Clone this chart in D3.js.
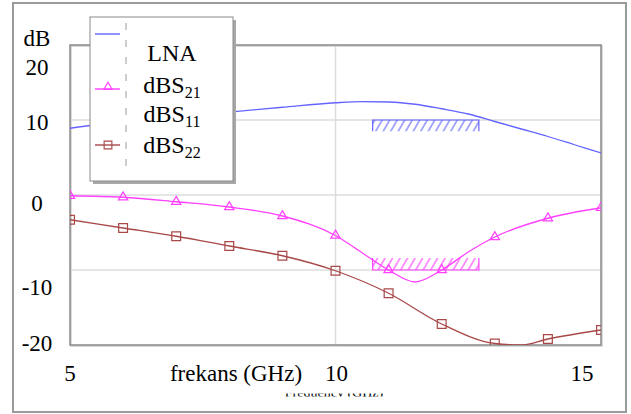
<!DOCTYPE html>
<html>
<head>
<meta charset="utf-8">
<script src="https://cdn.jsdelivr.net/npm/d3@7"></script>
<style>
  body { margin: 0; background: #fff; }
  svg text { fill: #000; }
</style>
</head>
<body>
<svg id="chart" width="631" height="414" font-family="'Liberation Serif', 'DejaVu Serif', 'Times New Roman', Times, serif"></svg>
<script>
// values (GHz / dB)
const lnaFreq = [5, 6, 7, 8, 9, 10, 10.5, 11, 11.5, 12, 12.5, 13, 13.5, 14, 14.5, 15];
const lnaDb = [8.9, 9.8, 10.5, 11.05, 11.7, 12.3, 12.45, 12.4, 12.1, 11.5, 10.8, 9.8, 8.8, 7.8, 6.7, 5.6];

const s21Freq = [5, 6, 7, 8, 9, 10, 10.5, 11, 11.5, 12, 12.5, 13, 14, 15];
const s21Db = [-0.1, -0.3, -0.9, -1.6, -2.8, -5.4, -7.7, -10.0, -11.6, -10.0, -7.6, -5.6, -3.1, -1.7];

const s22Freq = [5, 6, 7, 8, 9, 10, 11, 12, 13, 13.5, 14, 15];
const s22Db = [-3.3, -4.4, -5.5, -6.8, -8.1, -10.1, -13.1, -17.2, -19.8, -20, -19.2, -18.0];

// spec masks (hatched)
const maskFreq = [10.7, 12.7];
const gainMask = [8.5, 10];
const returnMask = [-10, -8.4];

const yTicks = [20, 10, 0, -10, -20];
const xTicks = [5, 10, 15];
const gridY = [10, 0, -10];
const gridX = [10];
const legendLabels = [["LNA", ""], ["dBS", "21"], ["dBS", "11"], ["dBS", "22"]];

const colors = { lna: "#6464ff", s21: "#ff40ff", s22: "#a84848" };

const svg = d3.select("#chart");
const plot = { left: 70, right: 601, top: 45, bottom: 345 };

const x = d3.scaleLinear().domain([5, 15]).range([plot.left, plot.right]);
const y = d3.scaleLinear().domain([-20, 20]).range([plot.bottom, plot.top]);

// outer frame
svg.append("rect")
  .attr("x", 13).attr("y", 3).attr("width", 613).attr("height", 409)
  .attr("fill", "none").attr("stroke", "#9a9a9a").attr("stroke-width", 2);

// hatch patterns
const defs = svg.append("defs");
function hatch(id, color) {
  defs.append("pattern")
    .attr("id", id)
    .attr("patternUnits", "userSpaceOnUse")
    .attr("width", 6.5).attr("height", 10)
    .attr("patternTransform", "rotate(30)")
    .append("line")
    .attr("x1", 1).attr("y1", 0).attr("x2", 1).attr("y2", 10)
    .attr("stroke", color).attr("stroke-width", 1.1);
}
hatch("hatchBlue", colors.lna);
hatch("hatchPink", colors.s21);

defs.append("clipPath").attr("id", "plotClip")
  .append("rect")
  .attr("x", plot.left).attr("y", plot.top - 6)
  .attr("width", plot.right - plot.left).attr("height", plot.bottom - plot.top + 6);

// gridlines
svg.append("g").selectAll("line").data(gridY).join("line")
  .attr("x1", plot.left).attr("x2", plot.right)
  .attr("y1", d => y(d)).attr("y2", d => y(d))
  .attr("stroke", "#dcdcdc").attr("stroke-width", 1.5);
svg.append("g").selectAll("line").data(gridX).join("line")
  .attr("x1", d => x(d)).attr("x2", d => x(d))
  .attr("y1", plot.top).attr("y2", plot.bottom)
  .attr("stroke", "#dcdcdc").attr("stroke-width", 1.5);

// plot frame
svg.append("rect")
  .attr("x", plot.left + 1).attr("y", plot.top + 1)
  .attr("width", plot.right - plot.left).attr("height", plot.bottom - plot.top)
  .attr("fill", "none").attr("stroke", "#cfcfcf").attr("stroke-width", 1.5);
svg.append("rect")
  .attr("x", plot.left).attr("y", plot.top)
  .attr("width", plot.right - plot.left).attr("height", plot.bottom - plot.top)
  .attr("fill", "none").attr("stroke", "#8a8a8a").attr("stroke-width", 1.5);

// spec masks
function mask(range, fill, color, edge) {
  const x0 = x(maskFreq[0]), x1 = x(maskFreq[1]);
  const yt = y(range[1]), yb = y(range[0]);
  svg.append("rect")
    .attr("x", x0).attr("y", yt).attr("width", x1 - x0).attr("height", yb - yt)
    .attr("fill", `url(#${fill})`);
  const p = edge === "top"
    ? `M${x0},${yb}V${yt}H${x1}V${yb}`
    : `M${x0},${yt}V${yb}H${x1}V${yt}`;
  svg.append("path").attr("d", p)
    .attr("fill", "none").attr("stroke", color).attr("stroke-width", 1.2);
}
mask(gainMask, "hatchBlue", colors.lna, "top");
mask(returnMask, "hatchPink", colors.s21, "bottom");

// curves
const lineGen = d3.line()
  .x(d => x(d[0])).y(d => y(d[1]))
  .curve(d3.curveMonotoneX);

const curves = svg.append("g").attr("clip-path", "url(#plotClip)");
const series = [
  { freq: lnaFreq, db: lnaDb, color: colors.lna, marker: null },
  { freq: s21Freq, db: s21Db, color: colors.s21, marker: d3.symbolTriangle },
  { freq: s22Freq, db: s22Db, color: colors.s22, marker: d3.symbolSquare }
];
series.forEach(s => {
  const pts = s.freq.map((f, i) => [f, s.db[i]]);
  curves.append("path")
    .datum(pts)
    .attr("d", lineGen)
    .attr("fill", "none")
    .attr("stroke", s.color)
    .attr("stroke-width", 1.3);
  if (s.marker) {
    const size = s.marker === d3.symbolTriangle ? 38 : 78;
    curves.selectAll(null)
      .data(pts.filter(p => Number.isInteger(p[0])))
      .join("path")
      .attr("d", d3.symbol(s.marker, size))
      .attr("transform", d => `translate(${x(d[0])},${y(d[1])})`)
      .attr("fill", "none")
      .attr("stroke", s.color)
      .attr("stroke-width", 1.2);
  }
});

// y tick labels (the original labels sit a bit off their gridlines)
const yNudge = { 20: 22, 10: 2, 0: 8, "-10": 17, "-20": -2 };
svg.append("g").selectAll("text").data(yTicks).join("text")
  .attr("x", 37)
  .attr("y", d => y(d) + yNudge[d])
  .attr("dy", "0.35em")
  .attr("text-anchor", "middle")
  .attr("font-size", 23)
  .text(d => d);
svg.append("text")
  .attr("x", 37).attr("y", 38).attr("dy", "0.35em")
  .attr("text-anchor", "middle").attr("font-size", 23)
  .text("dB");

// x tick labels
const xNudge = { 5: 0, 10: 1, 15: -19 };
svg.append("g").selectAll("text").data(xTicks).join("text")
  .attr("x", d => x(d) + xNudge[d])
  .attr("y", 373).attr("dy", "0.35em")
  .attr("text-anchor", "middle")
  .attr("font-size", 23)
  .text(d => d);

svg.append("text")
  .attr("x", 236).attr("y", 373).attr("dy", "0.35em")
  .attr("text-anchor", "middle").attr("font-size", 23)
  .text("frekans (GHz)");

// old English title peeking out from under the pasted one
defs.append("clipPath").attr("id", "oldTitleClip")
  .append("rect").attr("x", 270).attr("y", 393.5).attr("width", 130).attr("height", 3);
svg.append("text")
  .attr("clip-path", "url(#oldTitleClip)")
  .attr("x", 334).attr("y", 397)
  .attr("text-anchor", "middle").attr("font-size", 14)
  .text("Frequency (GHz)");

// legend
const lg = svg.append("g");
lg.append("rect")
  .attr("x", 93).attr("y", 20).attr("width", 143).attr("height", 164)
  .attr("fill", "#a8a8a8");
lg.append("rect")
  .attr("x", 90).attr("y", 17).attr("width", 143).attr("height", 164)
  .attr("fill", "#fff").attr("stroke", "#8a8a8a").attr("stroke-width", 1);
lg.append("line")
  .attr("x1", 126).attr("x2", 126).attr("y1", 23).attr("y2", 168)
  .attr("stroke", "#9a9a9a").attr("stroke-dasharray", "7,10");

const sampleRows = [
  { yPos: 34, color: colors.lna, marker: null },
  { yPos: 89, color: colors.s21, marker: d3.symbolTriangle },
  { yPos: 145, color: colors.s22, marker: d3.symbolSquare }
];
sampleRows.forEach(r => {
  lg.append("line")
    .attr("x1", 95).attr("x2", 120).attr("y1", r.yPos).attr("y2", r.yPos)
    .attr("stroke", r.color).attr("stroke-width", 1.4);
  if (r.marker) {
    lg.append("path")
      .attr("d", d3.symbol(r.marker, r.marker === d3.symbolTriangle ? 30 : 60))
      .attr("transform", `translate(108,${r.yPos - (r.marker === d3.symbolTriangle ? 2 : 0)})`)
      .attr("fill", "none").attr("stroke", r.color).attr("stroke-width", 1.1);
  }
});

const legendBaselines = [61, 93, 122, 153];
legendLabels.forEach((lab, i) => {
  const t = lg.append("text")
    .attr("x", 172).attr("y", legendBaselines[i])
    .attr("text-anchor", "middle")
    .attr("font-size", 24);
  t.append("tspan").text(lab[0]);
  if (lab[1]) {
    t.append("tspan")
      .attr("dy", 5)
      .attr("font-size", 16)
      .text(lab[1]);
  }
});
</script>
</body>
</html>
